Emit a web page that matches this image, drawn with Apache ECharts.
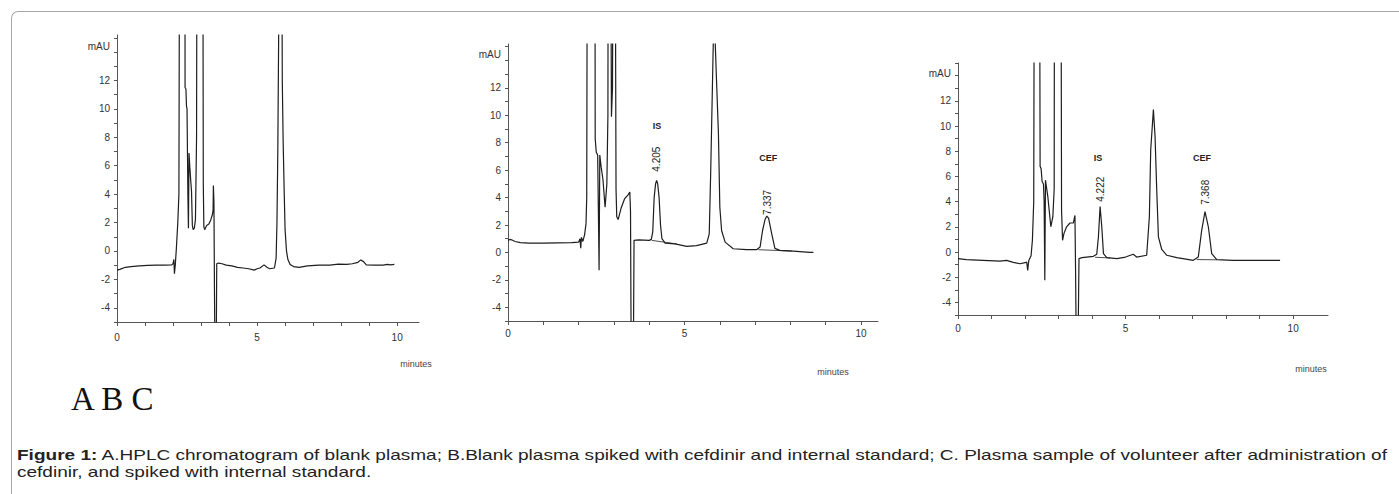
<!DOCTYPE html>
<html>
<head>
<meta charset="utf-8">
<script src="https://cdn.jsdelivr.net/npm/echarts@6/dist/echarts.min.js"></script>
<style>
  html, body { margin: 0; padding: 0; background: #fff; }
  #wrap { position: relative; width: 1399px; height: 494px; overflow: hidden; background: #fff; }
  #frame { position: absolute; left: 11px; top: 11px; width: 1500px; height: 600px;
           border-top: 1px solid #a8a8a8; border-left: 1px solid #a8a8a8; border-top-left-radius: 7px; }
  #chart { position: absolute; left: 0; top: 0; width: 1399px; height: 494px; }
  #abc { position: absolute; left: 71px; top: 383px; font-family: 'Liberation Serif', 'DejaVu Serif', serif;
         font-size: 33px; line-height: 1; color: #111; white-space: nowrap; }
  .cap { position: absolute; left: 17px; font-family: 'Liberation Sans', Arial, sans-serif; font-size: 15px;
         line-height: 17px; color: #222; white-space: nowrap; transform-origin: 0 0; }
</style>
</head>
<body>
<div id="wrap">
  <div id="frame"></div>
  <div id="chart"></div>
  <div id="abc">A B C</div>
  <div class="cap" id="cap1"><b>Figure 1:</b> A.HPLC chromatogram of blank plasma; B.Blank plasma spiked with cefdinir and internal standard; C. Plasma sample of volunteer after administration of</div>
  <div class="cap" id="cap2">cefdinir, and spiked with internal standard.</div>
</div>
<script>
// ---- data (minutes, mAU) ----
const traceA = [
  [0,-1.35],[0.1,-1.3],[0.3,-1.15],[0.5,-1.1],[0.8,-1.05],[1.1,-1.02],[1.4,-1.0],[1.7,-1.0],[1.95,-0.98],
  [2.0,-0.9],[2.03,-0.6],[2.05,-1.6],[2.08,-1.0],[2.12,0.2],[2.17,2.0],[2.21,4],[2.24,30],[2.42,30],
  [2.43,11.5],[2.46,11.4],[2.48,10.2],[2.5,10.0],[2.53,4],[2.55,1.6],[2.57,6.9],[2.6,5.9],[2.63,5.0],
  [2.66,4.2],[2.69,1.8],[2.72,1.5],[2.76,1.6],[2.8,2.2],[2.84,8],[2.86,30],[3.06,30],[3.08,4.8],
  [3.1,1.7],[3.13,1.5],[3.2,1.8],[3.28,1.9],[3.35,2.2],[3.41,2.6],[3.43,2.9],[3.44,4.6],[3.46,3.5],
  [3.48,-3],[3.5,-8],[3.54,-8],[3.56,-0.9],[3.62,-0.85],[3.75,-0.9],[3.9,-1.0],[4.1,-1.05],[4.3,-1.15],
  [4.5,-1.2],[4.7,-1.25],[4.9,-1.35],[5.0,-1.25],[5.1,-1.2],[5.25,-0.98],[5.35,-1.15],[5.45,-1.25],
  [5.62,-1.2],[5.68,-0.5],[5.71,2],[5.74,7],[5.77,15],[5.79,30],[5.87,30],[5.9,12],[5.93,7.8],[5.97,4],
  [6.0,1.5],[6.05,0],[6.1,-0.6],[6.18,-0.95],[6.3,-1.1],[6.5,-1.15],[6.8,-1.05],[7.2,-1.0],[7.6,-1.0],
  [7.9,-0.92],[8.2,-0.95],[8.4,-0.9],[8.6,-0.8],[8.7,-0.63],[8.8,-0.75],[8.9,-0.98],[9.2,-1.0],
  [9.5,-1.0],[9.65,-0.95],[9.75,-0.98],[9.9,-0.95]
];
const traceB = [
  [0,0.88],[0.05,0.95],[0.1,0.92],[0.2,0.8],[0.35,0.72],[0.6,0.68],[1.0,0.68],[1.4,0.7],[1.8,0.72],
  [2.0,0.75],[2.04,1.0],[2.06,0.3],[2.08,1.1],[2.12,0.8],[2.17,1.3],[2.21,2.1],[2.23,4],[2.25,30],
  [2.46,30],[2.47,8.3],[2.5,7.3],[2.54,7.1],[2.56,3],[2.58,-1.3],[2.6,7.1],[2.64,6.2],[2.69,5.3],
  [2.75,3.3],[2.8,5.0],[2.83,10],[2.84,30],[2.9,30],[2.93,9.9],[2.96,12],[2.98,30],[3.03,30],
  [3.06,4.6],[3.08,2.6],[3.12,2.4],[3.2,3.2],[3.3,3.9],[3.4,4.2],[3.45,4.4],[3.47,3],[3.49,-8],
  [3.55,-8],[3.57,0.88],[3.7,0.92],[4.0,0.88],[4.06,0.95],[4.1,1.5],[4.14,4.0],[4.18,5.0],[4.21,5.25],
  [4.24,5.0],[4.28,4.0],[4.32,2.0],[4.36,1.0],[4.45,0.68],[4.73,0.63],[5.06,0.44],[5.34,0.5],[5.63,0.68],
  [5.7,1.36],[5.74,5.7],[5.79,12.1],[5.82,16],[5.86,16],[5.9,13],[5.96,8.7],[6.0,3.3],[6.05,1.6],
  [6.15,0.75],[6.38,0.27],[6.76,0.2],[7.04,0.2],[7.14,0.39],[7.21,1.6],[7.28,2.4],[7.33,2.65],
  [7.38,2.5],[7.47,1.36],[7.56,0.3],[7.7,0.15],[8.08,0.1],[8.55,0.0],[8.65,0.0]
];
const traceC = [
  [0,-0.53],[0.25,-0.6],[0.75,-0.66],[1.25,-0.72],[1.45,-0.66],[1.65,-0.82],[1.85,-0.93],[2.0,-0.85],
  [2.05,-0.8],[2.08,-1.46],[2.11,-0.7],[2.18,-0.3],[2.22,0.93],[2.26,4],[2.28,30],[2.43,30],[2.45,6.8],
  [2.48,6.6],[2.51,5.6],[2.55,5.4],[2.57,4],[2.59,-2.25],[2.61,5.7],[2.68,4.4],[2.77,2.0],[2.83,2.8],
  [2.87,5],[2.88,30],[3.07,30],[3.09,3.3],[3.12,0.93],[3.16,1.46],[3.24,2.0],[3.34,2.3],[3.44,2.3],
  [3.49,2.9],[3.51,-2],[3.53,-8],[3.58,-8],[3.61,-0.53],[3.7,-0.45],[4.04,-0.34],[4.14,-0.18],
  [4.19,1.2],[4.24,3.6],[4.29,2.0],[4.34,-0.13],[4.44,-0.45],[4.74,-0.53],[5.0,-0.4],[5.23,-0.18],
  [5.33,-0.4],[5.63,-0.26],[5.71,2.8],[5.75,8.1],[5.83,11.3],[5.88,9.15],[5.93,4.9],[5.98,1.2],
  [6.08,0.2],[6.23,-0.26],[6.53,-0.45],[7.02,-0.66],[7.17,-0.4],[7.27,1.7],[7.37,3.2],[7.47,2.0],
  [7.57,-0.13],[7.72,-0.6],[8.2,-0.66],[9.0,-0.66],[9.61,-0.66]
];
// integration baselines under labelled peaks
const baseB_IS = [[4.07,0.88],[4.78,0.62]];
const baseB_CEF = [[7.09,0.2],[8.04,0.1]];
const baseC_IS = [[4.09,-0.42],[4.54,-0.47]];
const baseC_CEF = [[7.12,-0.6],[7.72,-0.62]];
// peak annotations: [label, minutes, mAU position, rotation]
const peakLabelsB = [['IS',4.22,9.2,0],['4.205',4.22,6.8,90],['CEF',7.37,6.86,0],['7.337',7.34,3.65,90]];
const peakLabelsC = [['IS',4.18,7.45,0],['4.222',4.24,4.98,90],['CEF',7.28,7.45,0],['7.368',7.37,4.74,90]];
// axis ticks
const xTicks = [0,1,2,3,4,5,6,7,8,9,10];
const xLabels = [0,5,10];
const yTicks = [-5,-4,-3,-2,-1,0,1,2,3,4,5,6,7,8,9,10,11,12,13,14,15];
const yLabels = [-4,-2,0,2,4,6,8,10,12];

const grids = [
  {left:117, top:35, width:302, height:287, xmax:10.78, ymax:15.2, nameTop:-6, xMargin:10},
  {left:508, top:44, width:370, height:277, xmax:10.48, ymax:15.2, nameTop:-5, xMargin:7},
  {left:958, top:63, width:370, height:252, xmax:11.04, ymax:15.0, nameTop:-5, xMargin:8}
];
const axisColor = '#555';
const lineColor = '#1e1e1e';

const chart = echarts.init(document.getElementById('chart'), null, {renderer:'svg'});
const option = {
  animation:false,
  backgroundColor:'transparent',
  grid: grids.map(g => ({left:g.left, top:g.top, width:g.width, height:g.height, containLabel:false})),
  xAxis: grids.map((g,i) => ({
    type:'value', gridIndex:i, min:0, max:g.xmax,
    axisLine:{show:true, onZero:false, lineStyle:{color:axisColor, width:1}},
    axisTick:{show:true, customValues:xTicks, length:4, lineStyle:{color:axisColor}},
    axisLabel:{customValues:xLabels, fontSize:10, color:'#333', margin:g.xMargin, fontFamily:'Liberation Sans'},
    splitLine:{show:false}
  })),
  yAxis: grids.map((g,i) => ({
    type:'value', gridIndex:i, min:-5, max:g.ymax,
    name:'mAU', nameLocation:'end', nameGap:g.nameTop,
    nameTextStyle:{align:'right', verticalAlign:'top', padding:[0,7,0,0], fontSize:10, color:'#333', fontFamily:'Liberation Sans'},
    axisLine:{show:true, onZero:false, lineStyle:{color:axisColor, width:1}},
    axisTick:{show:true, customValues:yTicks, length:3, lineStyle:{color:axisColor}},
    axisLabel:{customValues:yLabels, fontSize:10, color:'#333', margin:7, fontFamily:'Liberation Sans'},
    splitLine:{show:false}
  })),
  graphic: [
    {type:'text', x:416, y:364, style:{text:'minutes', fontSize:9, fill:'#444', fontFamily:'Liberation Sans', align:'center', verticalAlign:'middle'}},
    {type:'text', x:833, y:372, style:{text:'minutes', fontSize:9, fill:'#444', fontFamily:'Liberation Sans', align:'center', verticalAlign:'middle'}},
    {type:'text', x:1311, y:369, style:{text:'minutes', fontSize:9, fill:'#444', fontFamily:'Liberation Sans', align:'center', verticalAlign:'middle'}}
  ],
  series: []
};
function mk(labels){
  return {
    symbol:'circle', symbolSize:0, silent:true,
    data: labels.map(l => ({
      coord:[l[1], l[2]], value:l[0],
      label:{show:true, position:'inside', formatter:l[0], rotate:l[3],
        fontSize: l[3] ? 10 : 9, fontWeight: l[3] ? 'normal' : 'bold', color:'#222', fontFamily:'Liberation Sans'}
    }))
  };
}
const traces = [traceA, traceB, traceC];
const marks = [null, mk(peakLabelsB), mk(peakLabelsC)];
traces.forEach((t,i) => {
  const s = {type:'line', xAxisIndex:i, yAxisIndex:i, data:t, showSymbol:false, symbol:'none', clip:true,
    lineStyle:{color:lineColor, width:1.2}, silent:true};
  if (marks[i]) s.markPoint = marks[i];
  option.series.push(s);
});
[[baseB_IS,1],[baseB_CEF,1],[baseC_IS,2],[baseC_CEF,2]].forEach(([d,i]) => {
  option.series.push({type:'line', xAxisIndex:i, yAxisIndex:i, data:d, symbol:'none', clip:true,
    lineStyle:{color:lineColor, width:0.8}, silent:true});
});
chart.setOption(option);

// caption: the figure text is horizontally stretched to span 1370px
const c1 = document.getElementById('cap1'), c2 = document.getElementById('cap2');
const w = c1.getBoundingClientRect().width;
const s = 1370 / w;
c1.style.top = '446px'; c2.style.top = '463px';
c1.style.transform = 'scaleX(' + s + ')';
c2.style.transform = 'scaleX(' + s + ')';
</script>
</body>
</html>
